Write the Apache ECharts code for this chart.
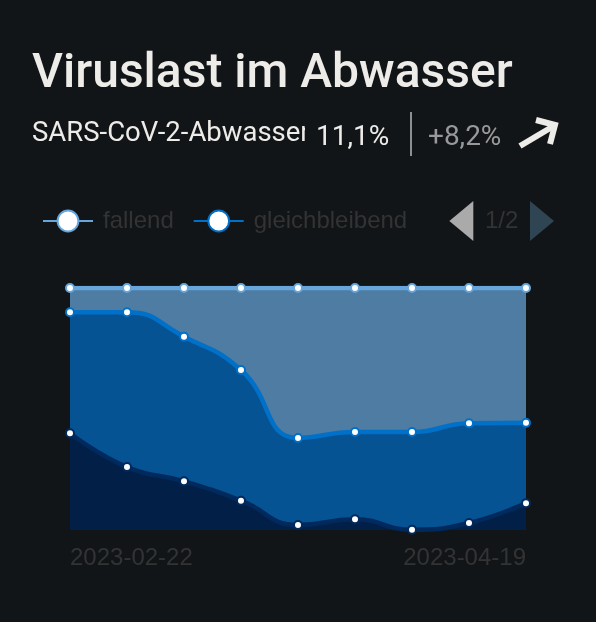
<!DOCTYPE html>
<html><head><meta charset="utf-8">
<style>html,body{margin:0;padding:0;background:#121518}#c{width:596px;height:622px}</style>
<script src="https://cdn.jsdelivr.net/npm/echarts@6/dist/echarts.min.js"></script>
</head><body><div id="c"></div>
<script>
const dates = ['2023-02-22','2023-03-01','2023-03-08','2023-03-15','2023-03-22','2023-03-29','2023-04-05','2023-04-12','2023-04-19'];
const steigend = [40,26,20.1,12.1,2.1,4.4,0.1,2.9,11.1];
const gleichbleibend = [50,64,59.8,54,35.9,36.1,40.4,41.2,33.2];
const fallend = [10,10,20.1,33.9,62,59.5,59.5,55.9,55.7];
const legendNames = ['fallend','gleichbleibend','steigend'];
const titleText = 'Viruslast im Abwasser';
const subtitleText = 'SARS-CoV-2-Abwasser';
const valueText = '11,1%';
const changeText = '+8,2%';

const bg = '#121518';
function mk(name,data,line,area,z){
  return {name,type:'line',stack:'s',smooth:0.5,data,z,
    symbol:'emptyCircle',symbolSize:8,showSymbol:true,
    lineStyle:{color:line,width:4.5},
    itemStyle:{color:line,borderColor:line,borderWidth:2},
    areaStyle:{color:area,opacity:1}};
}
const chart = echarts.init(document.getElementById('c'),null,{renderer:'canvas'});
chart.setOption({
  backgroundColor:bg,animation:false,
  title:[
    {text:titleText,left:32,top:51,padding:0,textStyle:{fontFamily:'Roboto',fontSize:48,fontWeight:500,color:'#eeece8'}},
    {text:subtitleText,left:32,top:120,padding:0,textStyle:{fontFamily:'Roboto',fontSize:27.5,fontWeight:400,color:'#eeece8'}}
  ],
  graphic:[
    {type:'rect',z:100,shape:{x:305,y:112,width:11,height:42},style:{fill:bg}},
    {type:'rect',z:100,shape:{x:412,y:200,width:36,height:40},style:{fill:bg}},
    {type:'text',z:101,x:316,y:124,style:{text:valueText,font:'400 28px Roboto',fill:'#eeece8'}},
    {type:'rect',z:101,shape:{x:410,y:112,width:2,height:44},style:{fill:'#8f8f8f'}},
    {type:'text',z:101,x:428,y:124,style:{text:changeText,font:'400 28px Roboto',fill:'#999999'}},
    {type:'polyline',z:101,shape:{points:[[520,146],[552,127]]},style:{stroke:'#eeece8',lineWidth:6,fill:null}},
    {type:'polyline',z:101,shape:{points:[[536,120],[555,125],[550,144]]},style:{stroke:'#eeece8',lineWidth:6,fill:null}}
  ],
  legend:{type:'scroll',data:legendNames,left:42,top:201,width:512,padding:0,
    itemWidth:50,itemHeight:26,itemGap:19,
    textStyle:{fontFamily:'Liberation Sans',fontSize:24,color:'#333',padding:[0,0,0,5]},
    pageIconSize:[24,44],pageIconColor:'#2f4554',pageIconInactiveColor:'#aaa',
    pageTextStyle:{fontFamily:'Liberation Sans',fontSize:24,color:'#333'},pageButtonItemGap:1,pageButtonGap:10},
  grid:{left:70,right:70,top:288,bottom:92,containLabel:false},
  xAxis:{type:'category',boundaryGap:false,data:dates,
    axisLine:{show:false},axisTick:{show:false},splitLine:{show:false},
    axisLabel:{interval:(i)=>i===0||i===dates.length-1,alignMinLabel:'left',alignMaxLabel:'right',
      margin:16,fontFamily:'Liberation Sans',fontSize:24,color:'#333'}},
  yAxis:{type:'value',min:0,max:100,show:false},
  series:[
    mk('steigend',steigend,'#00295e','#021f48',3),
    mk('gleichbleibend',gleichbleibend,'#0070c9','#055393',2),
    mk('fallend',fallend,'#66a6dc','#4f7ca2',1)
  ]
});
</script></body></html>
